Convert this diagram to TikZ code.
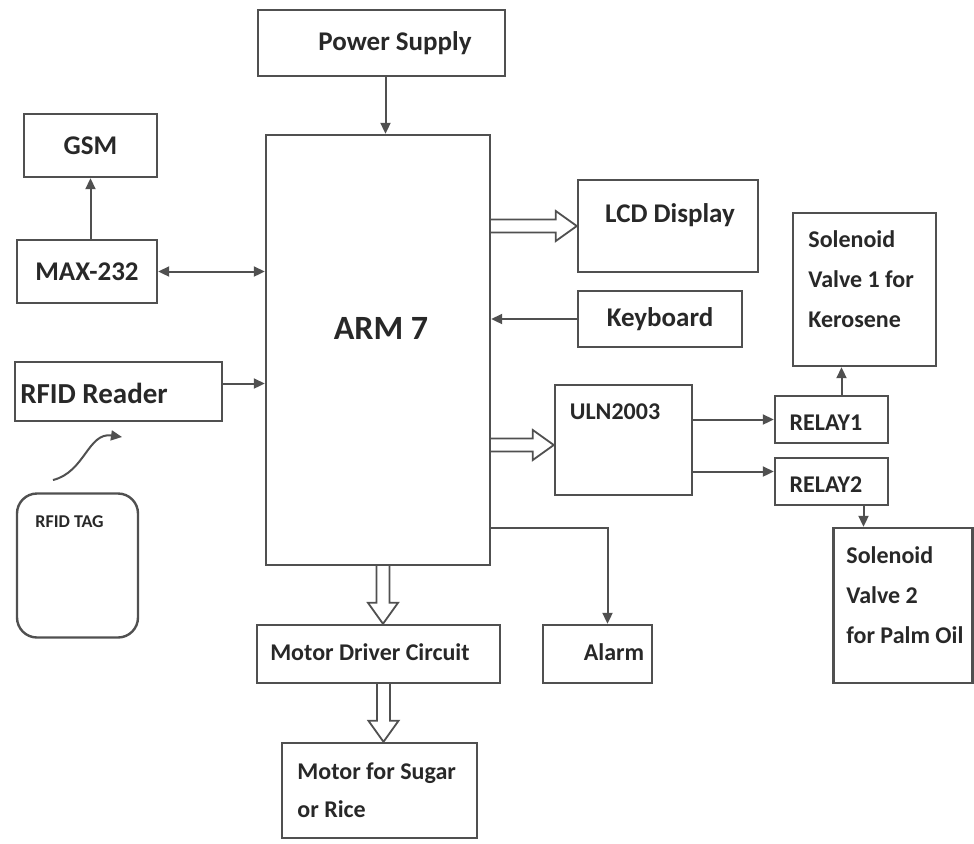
\documentclass[tikz,border=0pt]{standalone}
\usepackage{fontspec}
\setmainfont{Carlito}
\usetikzlibrary{positioning,calc,arrows.meta}
\definecolor{BDline}{RGB}{80,80,80}
\definecolor{BDtext}{RGB}{40,40,40}

\tikzset{
  blk/.style={draw=BDline,line width=1.2pt,inner sep=0pt},
  lbl/.style={font=\bfseries\fontsize{13.5}{16}\selectfont,text=BDtext,inner sep=0pt},
  sml/.style={font=\bfseries\fontsize{12}{20}\selectfont,text=BDtext,inner sep=0pt,align=left},
  tip/.style={Triangle[length=5.5pt,width=5pt]},
  arr/.style={draw=BDline,line width=1pt,-{Triangle[length=5.5pt,width=5pt]}},
  fat/.style={draw=BDline,line width=0.9pt,
    to path={let \p1=($(\tikztotarget)!10.5pt!(\tikztostart)$) in
      ($(\tikztostart)!3.25pt!90:(\tikztotarget)$) -- ($(\p1)!3.25pt!90:(\tikztotarget)$)
      -- ($(\p1)!7.5pt!90:(\tikztotarget)$) -- (\tikztotarget)
      -- ($(\p1)!7.5pt!-90:(\tikztotarget)$) -- ($(\p1)!3.25pt!-90:(\tikztotarget)$)
      -- ($(\tikztostart)!3.25pt!-90:(\tikztotarget)$)}}
}

\begin{document}
\begin{tikzpicture}[x=0.5pt,y=-0.5pt]
  \useasboundingbox (0,0) rectangle (974,843);

  % blocks
  \node[blk,minimum width=123.5pt,minimum height=33pt] (pwr) at (381.5,43) {};
  \node[lbl] at (395,43) {Power Supply};
  \node[blk,lbl,minimum width=66.5pt,minimum height=31.5pt] (gsm) at (90.5,145.5) {GSM};
  \node[blk,lbl,minimum width=70pt,minimum height=31.5pt] (max) at (87,271.5) {MAX-232};
  \node[blk,minimum width=112pt,minimum height=215pt] (arm) at (378,350) {};
  \node[lbl,font=\bfseries\fontsize{17}{20}\selectfont] at (381,328) {ARM 7};
  \node[blk,minimum width=90pt,minimum height=46pt] (lcd) at (668,226) {};
  \node[lbl] at (670,215) {LCD Display};
  \node[blk,lbl,minimum width=82pt,minimum height=28pt] (kbd) at (660,319) {Keyboard};
  \node[blk,minimum width=103.5pt,minimum height=29.5pt] (rfid) at (118.5,391.5) {};
  \node[lbl,font=\bfseries\fontsize{14.5}{16}\selectfont] at (94,393) {RFID Reader};
  \node[blk,minimum width=68.5pt,minimum height=55pt] (uln) at (623.5,440) {};
  \node[sml] at (615,412) {ULN2003};
  \node[blk,minimum width=56.5pt,minimum height=23.5pt] (rly1) at (831.5,419.5) {};
  \node[sml] at (826,423) {RELAY1};
  \node[blk,minimum width=56.5pt,minimum height=23.5pt] (rly2) at (831.5,481.5) {};
  \node[sml] at (826,485) {RELAY2};
  \node[blk,minimum width=71.5pt,minimum height=76.5pt] (sol1) at (864.5,289.5) {};
  \node[sml,anchor=north west] at (808,230) {Solenoid\\Valve 1 for\\Kerosene};
  \node[blk,minimum width=69.5pt,minimum height=77.5pt] (sol2) at (903,605.5) {};
  \node[sml,anchor=north west] at (846,546) {Solenoid\\Valve 2\\for Palm Oil};
  \node[blk,rounded corners=10pt,minimum width=60.5pt,minimum height=72pt] (tag) at (77.5,565.5) {};
  \node[lbl,font=\bfseries\fontsize{9}{10}\selectfont,anchor=west] at (35,522) {RFID TAG};
  \node[blk,minimum width=121.5pt,minimum height=29pt] (mdc) at (378.5,654) {};
  \node[sml] at (370,652) {Motor Driver Circuit};
  \node[blk,minimum width=54.5pt,minimum height=29pt] (alarm) at (597.5,654) {};
  \node[sml] at (614,652) {Alarm};
  \node[blk,minimum width=97.5pt,minimum height=47.5pt] (motor) at (379.5,790.5) {};
  \node[sml,font=\bfseries\fontsize{12}{19}\selectfont,anchor=north west] at (297,762) {Motor for Sugar\\or Rice};

  % thin connectors
  \draw[arr] ([xshift=2pt]pwr.south) -- ([xshift=2pt]pwr.south |- arm.north);
  \draw[arr] (gsm.south |- max.north) -- (gsm.south);
  \draw[arr,{Triangle[length=5.5pt,width=5pt]}-{Triangle[length=5.5pt,width=5pt]}] (max.east) -- (max.east -| arm.west);
  \draw[arr] ([yshift=4pt]rfid.east) -- ([yshift=4pt]rfid.east -| arm.west);
  \draw[arr] (kbd.west) -- (kbd.west -| arm.east);
  \draw[arr] (uln.east |- rly1.west) -- (rly1.west);
  \draw[arr] ([yshift=5pt]uln.east |- rly2.west) -- ([yshift=5pt]rly2.west);
  \draw[arr] ([xshift=5pt]rly1.north) -- ([xshift=5pt]rly1.north |- sol1.south);
  \draw[arr] ([xshift=16pt]rly2.south) -- ([xshift=16pt]rly2.south |- sol2.north);
  \draw[arr] ([yshift=-89pt]arm.east) -| ([xshift=5pt]alarm.north);

  % wide arrows
  \coordinate (lcdin) at (arm.east |- lcd.west);
  \coordinate (ulnin) at ([yshift=-2.5pt]arm.east |- uln.west);
  \draw[fat] (lcdin) to (lcd.west);
  \draw[fat] (ulnin) to ([yshift=-2.5pt]uln.west);
  \draw[fat] ([xshift=2.5pt]arm.south) to ([xshift=2.5pt]arm.south |- mdc.north);
  \draw[fat] ([xshift=2.5pt]mdc.south) to ([xshift=2.5pt]mdc.south |- motor.north);

  % tag signal
  \coordinate (wavein) at (53,480);
  \coordinate (waveout) at (122,437);
  \draw[arr] (wavein) .. controls (85,472) and (88,432) .. (waveout);
\end{tikzpicture}
\end{document}
